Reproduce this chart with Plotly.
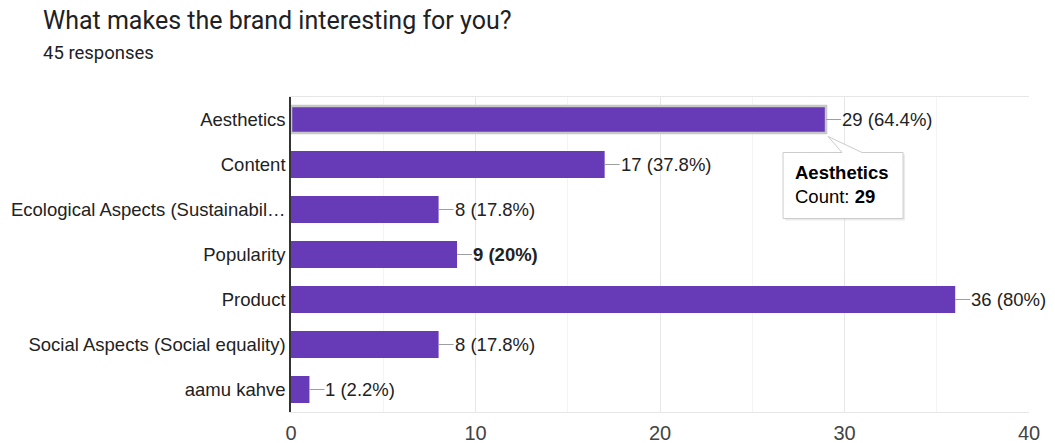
import plotly.graph_objects as go

title = "What makes the brand interesting for you?"
subtitle = "45 responses"
total = 45
categories = ["Aesthetics", "Content", "Ecological Aspects (Sustainabil…", "Popularity",
              "Product", "Social Aspects (Social equality)", "aamu kahve"]
counts = [29, 17, 8, 9, 36, 8, 1]
bold_category = "Popularity"
tooltip_category = "Aesthetics"
x_ticks = [0, 10, 20, 30, 40]

PURPLE = "#673ab7"


def pct_text(v):
    p = round(v / total * 100, 1)
    s = f"{p:.1f}".rstrip("0").rstrip(".")
    return f"{v} ({s}%)"


labels = [pct_text(v) for v in counts]

fig = go.Figure()
fig.add_trace(go.Bar(
    x=counts, y=categories, orientation="h",
    marker=dict(color=PURPLE,
                line=dict(color=["#c8c8c8" if c == tooltip_category else PURPLE for c in categories],
                          width=[2.5 if c == tooltip_category else 0 for c in categories])),
    width=0.6, hoverinfo="skip",
))

annotations = []
for c, v, t in zip(categories, counts, labels):
    annotations.append(dict(
        x=v, y=c, xref="x", yref="y",
        text=f"<b>{t}</b>" if c == bold_category else t,
        showarrow=True, arrowhead=0, arrowwidth=1, arrowcolor="#9e9e9e",
        ax=15, ay=0, xanchor="left", yanchor="middle",
        font=dict(family="Liberation Sans, Arial", size=18.5, color="#222222"),
        borderpad=0,
    ))

# title and subtitle
annotations.append(dict(x=-0.3388, y=1.244, xref="paper", yref="paper", text=title,
                        showarrow=False, xanchor="left", yanchor="middle",
                        font=dict(family="Roboto", size=25, color="#202124")))
annotations.append(dict(x=-0.3388, y=1.1397, xref="paper", yref="paper", text=subtitle,
                        showarrow=False, xanchor="left", yanchor="middle",
                        font=dict(family="Roboto", size=18.5, color="#202124")))

# tooltip
tv = counts[categories.index(tooltip_category)]
annotations.append(dict(
    x=tv, y=tooltip_category, xref="x", yref="y",
    text=f"<b>{tooltip_category}</b><br>Count: <b>{tv}</b>",
    showarrow=False, xanchor="left", yanchor="top", align="left",
    xshift=-33, yshift=-40,
    font=dict(family="Liberation Sans, Arial", size=18.5, color="#000000"),
))

shapes = [
    dict(type="path", xref="x", yref="y", xsizemode="pixel", ysizemode="pixel",
         xanchor=tv, yanchor=tooltip_category,
         path="M -41,-35 L 18,-35 L 4,-19 L 38,-35 L 79,-35 L 79,-101 L -41,-101 Z",
         fillcolor="rgba(0,0,0,0.08)", line=dict(width=0), layer="above"),
    dict(type="path", xref="x", yref="y", xsizemode="pixel", ysizemode="pixel",
         xanchor=tv, yanchor=tooltip_category,
         path="M -43,-33 L 16,-33 L 2,-17 L 36,-33 L 77,-33 L 77,-99 L -43,-99 Z",
         fillcolor="white", line=dict(color="#cccccc", width=1), layer="above"),
]

fig.update_layout(
    width=1055, height=443,
    margin=dict(l=291, r=26, t=97, b=31, autoexpand=False),
    paper_bgcolor="white", plot_bgcolor="white",
    showlegend=False,
    annotations=annotations,
    shapes=shapes,
    xaxis=dict(range=[0, 40], tickvals=x_ticks, showgrid=True, gridcolor="#e6e6e6",
               minor=dict(dtick=5, showgrid=True, gridcolor="#f4f4f4"),
               showline=True, linecolor="#e6e6e6", mirror=True, zeroline=False,
               ticks="", ticklen=0, ticklabelstandoff=3, automargin=False,
               tickfont=dict(family="Liberation Sans, Arial", size=20, color="#444444")),
    yaxis=dict(categoryorder="array", categoryarray=categories,
               range=[len(categories) - 0.5, -0.5], autorange=False, automargin=False,
               showline=True, linecolor="#333333", linewidth=1.5, showgrid=False,
               ticks="", ticklen=0,
               tickfont=dict(family="Liberation Sans, Arial", size=18.5, color="#222222")),
    font=dict(family="Liberation Sans, Arial"),
)

fig.write_html("out.html")
